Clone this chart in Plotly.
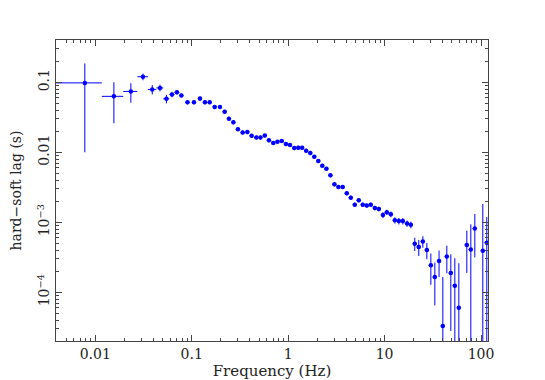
import plotly.graph_objects as go

# low-frequency points (linear bins, half-width 1/256 Hz)
f_lin = [0.0078, 0.0156, 0.0234, 0.03125, 0.039, 0.0469, 0.0547, 0.0625, 0.0703]
lag_lin = [0.098, 0.063, 0.074, 0.120, 0.079, 0.083, 0.058, 0.067, 0.072]
err_lin = [0.088, 0.037, 0.023, 0.013, 0.012, 0.009, 0.008, 0.006, 0.005]

# higher-frequency points (log bins)
f_log = [0.0782, 0.0905, 0.1056, 0.1219, 0.1373, 0.1537, 0.1731, 0.1965, 0.2198, 0.2435,
         0.2705, 0.3018, 0.3377, 0.3777, 0.4184, 0.4683, 0.5164, 0.5735, 0.6324, 0.7008,
         0.7747, 0.8585, 0.949, 1.046, 1.157, 1.273, 1.397, 1.537, 1.699, 1.868,
         2.056, 2.262, 2.494, 2.744, 3.019, 3.321, 3.680, 4.058, 4.465, 4.912,
         5.403, 5.944, 6.540, 7.194, 7.933, 8.729, 9.625, 10.56, 11.62, 12.79,
         14.07, 15.47, 17.11, 18.73, 20.56, 22.62, 24.94, 27.44, 30.19, 33.21,
         36.72, 40.19, 44.21, 48.64, 53.52, 58.89, 71.27, 78.41, 86.27, 104.4,
         114.8]
lag_log = [0.065, 0.0519, 0.0519, 0.0585, 0.0519, 0.0519, 0.0444, 0.0444, 0.0379, 0.0302,
           0.0268, 0.0214, 0.0191, 0.0195, 0.0172, 0.0163, 0.0162, 0.0173, 0.0149, 0.0136,
           0.0141, 0.0145, 0.0131, 0.0127, 0.0115, 0.0116, 0.0116, 0.0105, 0.0098, 0.0086,
           0.0075, 0.0064, 0.0058, 0.0047, 0.0035, 0.0032, 0.0032, 0.0026, 0.00225, 0.00178,
           0.00206, 0.00178, 0.00173, 0.00178, 0.0016, 0.00155, 0.00127, 0.00139, 0.0013, 0.00107,
           0.00104, 0.00104, 0.00096, 0.00092, 4.95e-4, 4.45e-4, 5.33e-4, 4.02e-4, 2.43e-4, 1.65e-4,
           2.80e-4, 3.31e-5, 3.25e-4, 1.88e-4, 1.24e-4, 6.0e-5, 4.74e-4, 4.09e-4, 8.15e-4, 3.93e-4,
           5.11e-4]
err_log = [0.004, 0.0035, 0.0035, 0.004, 0.0035, 0.0035, 0.003, 0.003, 0.0025, 0.002,
           0.0018, 0.0014, 0.0013, 0.0013, 0.0011, 0.0011, 0.0011, 0.0011, 0.001, 0.0009,
           0.0009, 0.0009, 0.0009, 0.0008, 0.0008, 0.0008, 0.0008, 0.0007, 0.0007, 0.0006,
           0.0005, 0.00045, 0.0004, 0.00033, 0.00025, 0.00022, 0.00022, 0.00018, 0.00016, 0.00013,
           0.00014, 0.00013, 0.00012, 0.00013, 0.00012, 0.00012, 0.00012, 0.00012, 0.00012, 0.00011,
           0.00011, 0.00011, 0.0001, 0.0001, 1.07e-4, 1.15e-4, 1.0e-4, 1.05e-4, 1.15e-4, 1.0e-4,
           1.15e-4, 1.32e-4, 1.38e-4, 1.6e-4, 1.82e-4, 2.0e-4, 2.85e-4, 5.27e-4, 5.0e-4, 1.43e-3,
           6.8e-4]

x_ticks = [0.01, 0.1, 1, 10, 100]
x_text = ["0.01", "0.1", "1", "10", "100"]
y_ticks = [0.1, 0.01, 1e-3, 1e-4]
y_text = ["0.1", "0.01", "10<sup>−3</sup>", "10<sup>−4</sup>"]

blue = "#0000ff"
font = "DejaVu Serif"

fig = go.Figure()
fig.add_trace(go.Scatter(
    x=f_lin, y=lag_lin, mode="markers",
    marker=dict(color=blue, size=4.5),
    error_x=dict(type="constant", value=0.0039, color=blue, thickness=1, width=0),
    error_y=dict(type="data", array=err_lin, color=blue, thickness=1, width=0),
))
fig.add_trace(go.Scatter(
    x=f_log, y=lag_log, mode="markers",
    marker=dict(color=blue, size=4.5),
    error_x=dict(type="percent", value=5, color=blue, thickness=1, width=0),
    error_y=dict(type="data", array=err_log, color=blue, thickness=1, width=0),
))

axis_common = dict(
    type="log", showgrid=False, zeroline=False, automargin=False,
    showline=True, linecolor="#444", linewidth=1, mirror="ticks",
    ticks="inside", ticklen=6, tickcolor="#444", tickwidth=1,
    minor=dict(ticks="inside", ticklen=3, tickcolor="#444", dtick="D1", showgrid=False),
    tickfont=dict(family=font, size=14, color="#222"),
)
fig.update_xaxes(**axis_common, range=[-2.407, 2.0725],
                 tickvals=x_ticks, ticktext=x_text,
                 title=dict(text="Frequency (Hz)", font=dict(family=font, size=15, color="#222"), standoff=3))
fig.update_yaxes(**axis_common, range=[-4.696, -0.396],
                 tickvals=y_ticks, ticktext=y_text, tickangle=-90,
                 title=dict(text="hard−soft lag (s)", font=dict(family=font, size=14, color="#222"), standoff=13))

# the page body adds an 8 px offset, so the margins are shifted to compensate
fig.update_layout(
    width=545, height=380,
    margin=dict(l=48, r=65, t=32, b=47),
    paper_bgcolor="white", plot_bgcolor="white",
    showlegend=False,
)
fig.write_html("out.html")
